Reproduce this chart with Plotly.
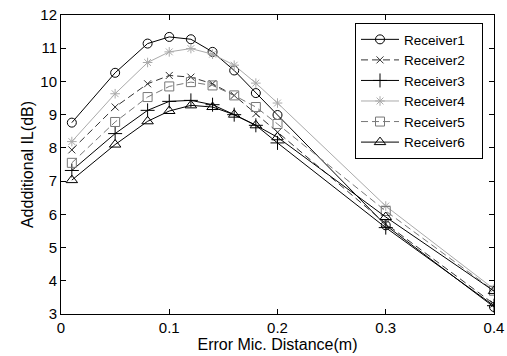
import plotly.graph_objects as go

distance = [0.01, 0.05, 0.08, 0.10, 0.12, 0.14, 0.16, 0.18, 0.20, 0.30, 0.40]

receiver1 = [8.76, 10.26, 11.14, 11.34, 11.27, 10.89, 10.33, 9.65, 8.99, 5.67, 3.21]
receiver2 = [7.94, 9.23, 9.93, 10.18, 10.13, 9.93, 9.58, 9.03, 8.47, 5.72, 3.30]
receiver3 = [7.32, 8.43, 9.13, 9.40, 9.43, 9.30, 9.00, 8.68, 8.15, 5.60, 3.25]
receiver4 = [8.19, 9.63, 10.57, 10.89, 10.99, 10.82, 10.49, 9.95, 9.35, 6.25, 3.75]
receiver5 = [7.55, 8.78, 9.53, 9.85, 9.98, 9.88, 9.58, 9.23, 8.72, 6.10, 3.70]
receiver6 = [7.03, 8.10, 8.80, 9.11, 9.28, 9.23, 9.00, 8.68, 8.32, 5.92, 3.69]

names = ["Receiver1", "Receiver2", "Receiver3", "Receiver4", "Receiver5", "Receiver6"]
series = [receiver1, receiver2, receiver3, receiver4, receiver5, receiver6]
colors = ["#000000", "#333333", "#000000", "#aaaaaa", "#777777", "#000000"]
dashes = ["solid", "7px,4px", "solid", "solid", "7px,4px", "solid"]
symbols = ["circle-open", "x-thin-open", "cross-thin-open", "asterisk-open",
           "square-open", "triangle-up-open"]
sizes = [9, 7, 10, 8, 9, 10]

x_ticks = [0, 0.1, 0.2, 0.3, 0.4]
y_ticks = [3, 4, 5, 6, 7, 8, 9, 10, 11, 12]

FONT = "Liberation Sans, Arial, sans-serif"
PAD = "\u00a0\u00a0\u00a0"  # invisible padding to widen the legend box

fig = go.Figure()
for n, s, c, d, sym, sz in zip(names, series, colors, dashes, symbols, sizes):
    fig.add_trace(go.Scatter(
        x=distance, y=s, name=n + PAD, mode="lines+markers",
        line=dict(color=c, width=1, dash=d),
        marker=dict(symbol=sym, size=sz, color=c, line=dict(color=c, width=1)),
    ))

axis_common = dict(
    showline=True, linecolor="black", linewidth=1, mirror="ticks",
    ticks="inside", ticklen=5, tickcolor="black", showgrid=False, zeroline=False,
    tickfont=dict(family=FONT, size=15, color="black"), automargin=False,
)

fig.update_layout(
    width=507, height=356,
    margin=dict(l=61, r=13, t=15, b=42),
    paper_bgcolor="white", plot_bgcolor="white",
    font=dict(family=FONT, color="black"),
    xaxis=dict(range=[0, 0.4], tickvals=x_ticks, ticktext=[f"{v:g}" for v in x_ticks],
               title=dict(text="Error Mic. Distance(m)", font=dict(size=16), standoff=0),
               **axis_common),
    yaxis=dict(range=[3, 12], tickvals=y_ticks,
               title=dict(text="Addditional IL(dB)", font=dict(size=16), standoff=2),
               **axis_common),
    legend=dict(x=0.679, y=0.973, xanchor="left", yanchor="top",
                bgcolor="white", bordercolor="black", borderwidth=1,
                font=dict(family=FONT, size=13.5, color="black"), tracegroupgap=0,
                itemwidth=38),
    showlegend=True,
)

fig.write_html("out.html")
